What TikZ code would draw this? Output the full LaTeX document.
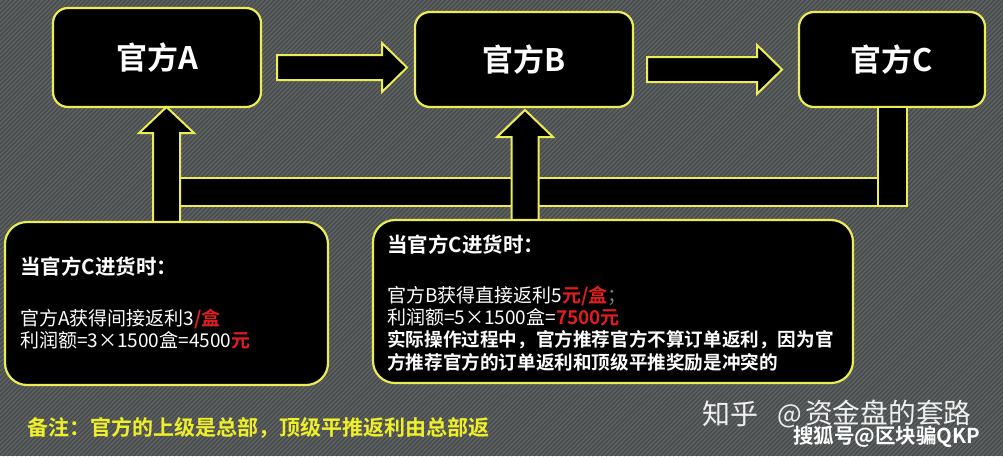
\documentclass[tikz,border=0pt]{standalone}
\usepackage{fontspec}
\newfontfamily\cjk{Noto Sans CJK SC}[BoldFont={Noto Sans CJK SC Bold}]
\definecolor{hl}{RGB}{236,236,84}
\definecolor{bgc}{RGB}{92,96,96}
\definecolor{stripe}{RGB}{66,68,68}
\definecolor{rd}{RGB}{225,30,30}
\definecolor{notec}{RGB}{240,240,40}
\definecolor{wmc}{RGB}{240,240,240}
\tikzset{
  topbox/.style={draw=hl, line width=2.2pt, fill=black, rounded corners=15pt, inner sep=0pt,
    text=white, font=\cjk\fontsize{31}{33}\selectfont\bfseries},
  infobox/.style={draw=hl, line width=2.2pt, fill=black, rounded corners=22pt, inner sep=0pt},
  blk/.style={draw=hl, line width=2pt, fill=black, line join=miter},
  txt/.style={anchor=base west, inner sep=0pt, text=white, font=\cjk\fontsize{19}{21}\selectfont},
  btxt/.style={txt, font=\cjk\fontsize{18.6}{20}\selectfont\bfseries},
  ttxt/.style={txt, font=\cjk\fontsize{20.5}{22}\selectfont\bfseries},
  wm/.style={anchor=base west, inner sep=0pt, text=wmc},
}
\newcommand{\red}[1]{{\bfseries\color{rd}#1}}
\begin{document}
\begin{tikzpicture}[x=1pt,y=-1pt]
\useasboundingbox (0,0) rectangle (1003,456);
\node[fill=bgc, draw=none, inner sep=0pt, outer sep=0pt, minimum width=1003pt, minimum height=456pt, anchor=north west] (bg) at (0,0) {};
\foreach \i in {-456,-451.5,...,1003} \draw[draw=stripe, line width=0.9pt] (\i,456) -- ++(456,-456);

% top boxes
\node[topbox, minimum width=208pt, minimum height=99pt] (A) at (157,57.5) {官方A};
\node[topbox, minimum width=218pt, minimum height=95pt] (B) at (524,59.5) {官方B};
\node[topbox, minimum width=186pt, minimum height=95pt] (C) at (892,59.5) {官方C};

% right block arrows
\draw[blk] (277,55) -- (382,55) -- (382,43) -- (407,67.5) -- (382,92) -- (382,80) -- (277,80) -- cycle;
\draw[blk] (647,57) -- (757,57) -- (757,45) -- (782,69.5) -- (757,94) -- (757,82) -- (647,82) -- cycle;

% return bar from C
\draw[blk] (180,178) rectangle (907,206);
\draw[blk] (878,107) rectangle (907,206);

% up arrows
\draw[blk] (153,224) -- (153,133) -- (139,133) -- (166.5,107) -- (194,133) -- (180,133) -- (180,224) -- cycle;
\draw[blk] (511.5,222) -- (511.5,137) -- (497,137) -- (525,110) -- (553,137) -- (538.5,137) -- (538.5,222) -- cycle;

% info boxes
\node[infobox, minimum width=323pt, minimum height=163pt] (L) at (166.5,303.5) {};
\node[infobox, minimum width=480pt, minimum height=163pt] (R) at (613,301.5) {};

\node[ttxt] (l1) at (20,274) {当官方C进货时：};
\node[txt] (l2) at (20,325) {官方A获得间接返利3\red{/盒}};
\node[txt] (l3) at (20,347) {利润额=3×1500盒=4500\red{元}};

\node[ttxt] (r1) at (387,252) {当官方C进货时：};
\node[txt] (r2) at (387,302) {官方B获得直接返利5\red{元/盒}{\color{gray}；}};
\node[txt] (r3) at (387,324) {利润额=5×1500盒=\red{7500元}};
\node[btxt] (r4) at (387,346) {实际操作过程中，官方推荐官方不算订单返利，因为官};
\node[btxt] (r5) at (387,369) {方推荐官方的订单返利和顶级平推奖励是冲突的};

% note
\node[anchor=base west, inner sep=0pt, text=notec, font=\cjk\fontsize{21}{23}\selectfont\bfseries] (nt) at (27,435) {备注：官方的上级是总部，顶级平推返利由总部返};

% watermarks
\node[wm, font=\cjk\fontsize{28}{30}\selectfont] (w1) at (702,424) {知乎};
\node[wm, font=\cjk\fontsize{26}{28}\selectfont] (w2) at (777,423) {@};
\node[wm, font=\cjk\fontsize{27.7}{30}\selectfont] (w3) at (805,423) {资金盘的套路};
\node[wm, text=white, font=\cjk\fontsize{20.5}{23}\selectfont\bfseries] (w4) at (793,443) {搜狐号@区块骗QKP};
\end{tikzpicture}
\end{document}
